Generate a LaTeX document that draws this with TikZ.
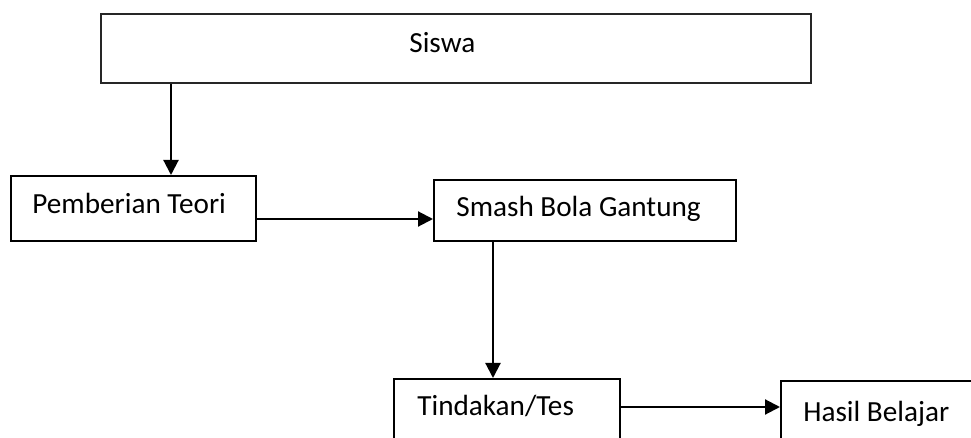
\documentclass[tikz,border=0pt]{standalone}
\usepackage{fontspec}
\setmainfont{Carlito}
\usetikzlibrary{arrows.meta,fit}
\begin{document}
\begin{tikzpicture}[x=0.5pt,y=-0.5pt,
  box/.style={draw=black, line width=1pt, inner sep=0pt},
  bigbox/.style={draw=black!85, line width=1.25pt, inner sep=0pt},
  lbl/.style={anchor=base west, inner sep=0pt, font=\fontsize{14.6pt}{17pt}\selectfont},
  arr/.style={line width=1.05pt, -{Triangle[length=7.5pt,width=7.5pt]}}]
\useasboundingbox (0,0) rectangle (971,438);
\clip (0,0) rectangle (971,438);
\node[bigbox, fit={(101,14)(811,83)}] (siswa) {};
\node[box, fit={(11,176)(256,241)}] (pem) {};
\node[box, fit={(434,180)(736,241)}] (smash) {};
\node[box, fit={(394,379)(620,460)}] (tind) {};
\node[box, fit={(781,381)(1000,460)}] (hasil) {};
\node[lbl] (tsiswa) at (409,53) {Siswa};
\node[lbl] (tpem) at (32,214) {Pemberian Teori};
\node[lbl] (tsmash) at (456,217) {Smash Bola Gantung};
\node[lbl] (ttind) at (417,416) {Tindakan/Tes};
\node[lbl] (thasil) at (803,422) {Hasil Belajar};
\draw[arr] (171,0 |- siswa.south) -- (171,0 |- pem.north);
\draw[arr] (pem.east |- 0,219) -- (smash.west |- 0,219);
\draw[arr] (493,0 |- smash.south) -- (493,0 |- tind.north);
\draw[arr] (tind.east |- 0,407) -- (hasil.west |- 0,407);
\end{tikzpicture}
\end{document}
